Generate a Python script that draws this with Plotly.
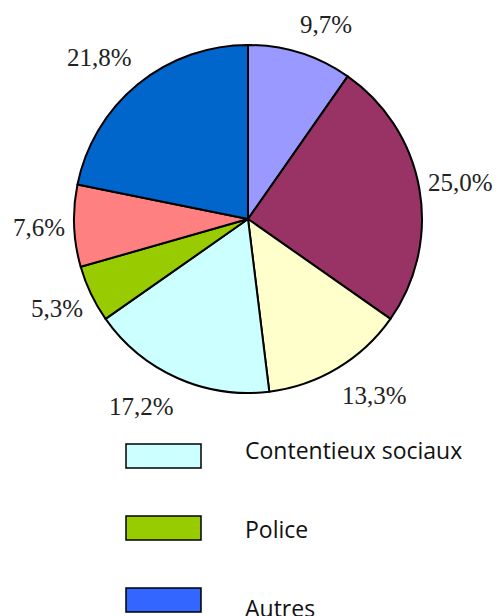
import math
import plotly.graph_objects as go

# ---- data ----
categories = ["Catégorie 1", "Catégorie 2", "Catégorie 3", "Contentieux sociaux",
              "Police", "Catégorie 6", "Autres"]
values = [9.7, 25.0, 13.3, 17.2, 5.3, 7.6, 21.8]
value_labels = ["9,7%", "25,0%", "13,3%", "17,2%", "5,3%", "7,6%", "21,8%"]
slice_colors = ["#9999FF", "#993366", "#FFFFCC", "#CCFFFF", "#99CC00", "#FF8080", "#0066CC"]

legend_labels = ["Contentieux sociaux", "Police", "Autres"]
legend_colors = ["#CCFFFF", "#99CC00", "#3366FF"]

# ---- layout geometry (pixels) ----
W, H = 499, 616
CX, CY, R = 248, 219, 174

fig = go.Figure(go.Pie(
    labels=categories,
    values=values,
    sort=False,
    direction="clockwise",
    rotation=0,
    marker=dict(colors=slice_colors, line=dict(color="black", width=2)),
    textinfo="none",
    hoverinfo="label+percent",
    showlegend=False,
    domain=dict(x=[(CX - R) / W, (CX + R) / W],
                y=[1 - (CY + R) / H, 1 - (CY - R) / H]),
))

annotations = []
shapes = []


def clamp(v):
    return max(-1.0, min(1.0, v))


# percentage labels placed outside each slice at its mid-angle
total = sum(values)
cum = 0.0
RL = 183
HH = 20
for v, lab in zip(values, value_labels):
    mid = (cum + v / 2) / total * 2 * math.pi
    cum += v
    s, c = math.sin(mid), math.cos(mid)
    hw = len(lab) * 6.5
    px = CX + RL * s + hw * clamp(3 * s)
    py = CY - RL * c - HH * clamp(1.3 * c)
    annotations.append(dict(
        x=px / W, y=1 - py / H, xref="paper", yref="paper",
        text=lab, showarrow=False, xanchor="center", yanchor="middle",
        font=dict(family="Liberation Serif", size=25, color="#222222"),
    ))

# manual legend
BX0, BX1 = 126, 201
BOX_Y0, BOX_STEP, BOX_H = 444, 72, 24
TX, TEXT_Y0, TEXT_STEP = 243, 450, 79
for i, (lab, col) in enumerate(zip(legend_labels, legend_colors)):
    y0 = BOX_Y0 + i * BOX_STEP
    shapes.append(dict(
        type="rect", xref="paper", yref="paper",
        x0=BX0 / W, x1=BX1 / W, y0=1 - y0 / H, y1=1 - (y0 + BOX_H) / H,
        fillcolor=col, line=dict(color="black", width=1.5),
    ))
    ty = TEXT_Y0 + i * TEXT_STEP
    annotations.append(dict(
        x=TX / W, y=1 - ty / H, xref="paper", yref="paper",
        text=lab, showarrow=False, xanchor="left", yanchor="middle",
        font=dict(family="Open Sans", size=23, color="#111111"),
    ))

fig.update_layout(
    width=W, height=H,
    margin=dict(l=0, r=0, t=0, b=0),
    paper_bgcolor="white",
    plot_bgcolor="white",
    annotations=annotations,
    shapes=shapes,
)

fig.write_html("out.html", config={"displayModeBar": False},
               post_script="document.body.style.margin='0';")
